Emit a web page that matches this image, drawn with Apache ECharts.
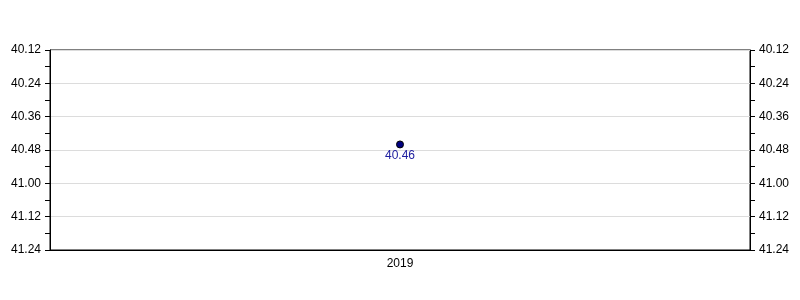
<!DOCTYPE html>
<html>
<head>
<meta charset="utf-8">
<script src="https://cdn.jsdelivr.net/npm/echarts@6/dist/echarts.min.js"></script>
<style>html,body{margin:0;padding:0;background:#fff}#c{width:800px;height:300px}</style>
</head>
<body>
<div id="c"></div>
<script>
var categories = ['2019'];
var times = ['40.46']; // minutes.seconds
var axisMin = '40.12';
var axisMax = '41.24';
var stepSeconds = 12;

function toSec(s) { var p = s.split('.'); return parseInt(p[0], 10) * 60 + parseInt(p[1], 10); }
function fmt(v) { v = Math.round(v); var m = Math.floor(v / 60), s = v % 60; return m + '.' + (s < 10 ? '0' : '') + s; }

var values = times.map(toSec);
var font = 'Liberation Sans, Arial, sans-serif';

var yCommon = {
  type: 'value', inverse: true, min: toSec(axisMin), max: toSec(axisMax), interval: stepSeconds,
  axisLine: { show: true, lineStyle: { color: '#000' } },
  axisTick: { show: true, length: 5, lineStyle: { color: '#000' } },
  minorTick: { show: true, splitNumber: 2, length: 5, lineStyle: { color: '#000' } },
  axisLabel: { color: '#000', fontSize: 12, fontFamily: font, formatter: fmt, margin: 9 }
};

var chart = echarts.init(document.getElementById('c'));
chart.setOption({
  animation: false,
  grid: { left: 50, right: 50, top: 50, bottom: 50, show: true, borderColor: '#000', borderWidth: 1 },
  xAxis: {
    type: 'category', data: categories, boundaryGap: true,
    axisLine: { lineStyle: { color: '#000' } },
    axisTick: { alignWithLabel: true, length: 5, lineStyle: { color: '#000' } },
    axisLabel: { color: '#000', fontSize: 12, fontFamily: font, margin: 8 }
  },
  yAxis: [
    Object.assign({}, yCommon, { position: 'left', splitLine: { show: true, lineStyle: { color: '#dcdcdc' } } }),
    Object.assign({}, yCommon, { position: 'right', splitLine: { show: false } })
  ],
  series: [{
    type: 'line', data: values, symbol: 'circle', symbolSize: 7,
    itemStyle: { color: '#000080', borderColor: '#000', borderWidth: 1 },
    lineStyle: { color: '#000080' },
    label: { show: true, position: 'bottom', distance: 1, formatter: function (p) { return fmt(p.value); }, color: '#2020a0', fontSize: 12, fontFamily: font }
  }]
});
</script>
</body>
</html>
